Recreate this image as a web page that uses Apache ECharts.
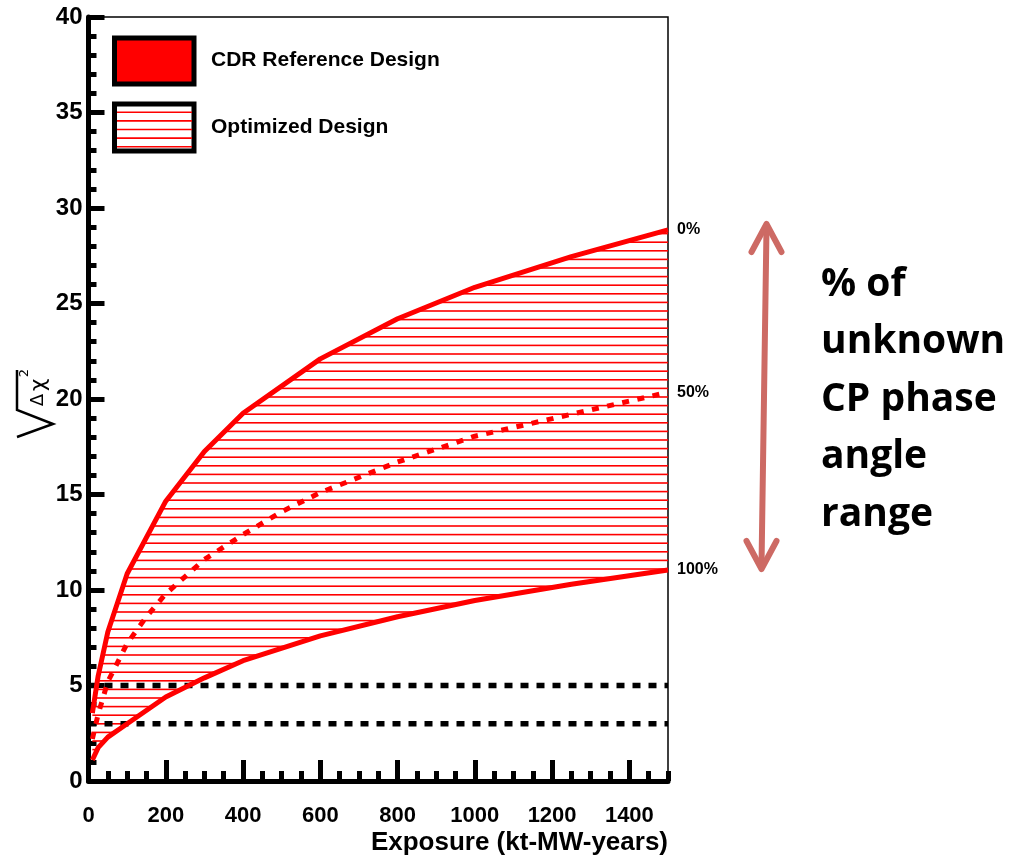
<!DOCTYPE html>
<html><head><meta charset="utf-8">
<script src="https://cdn.jsdelivr.net/npm/echarts@6/dist/echarts.min.js"></script>
<style>html,body{margin:0;padding:0;background:#fff}#c{width:1015px;height:857px}</style>
</head><body><div id="c"></div>
<script>
// ---- data ----
const exposure = [10, 25, 50, 100, 200, 300, 400, 600, 800, 1000, 1250, 1500];
const sig0 = [3.55, 5.5, 7.8, 10.85, 14.65, 17.25, 19.25, 22.1, 24.2, 25.85, 27.45, 28.85];
const sig100 = [1.1, 1.75, 2.3, 3.0, 4.4, 5.4, 6.3, 7.6, 8.6, 9.45, 10.3, 11.05];
const exposure50 = [10, 25, 50, 100, 150, 200, 300, 400, 500, 600, 800, 1000, 1250, 1500];
const sig50 = [2.2, 3.5, 5.2, 7.2, 8.6, 9.8, 11.6, 12.9, 14.1, 15.1, 16.7, 18.05, 19.2, 20.35];
const thresholds = [5, 3];
const xRange = [0, 1500];
const yRange = [0, 40];
const xMajorTicks = [0, 200, 400, 600, 800, 1000, 1200, 1400];
const curveLabels = ['0%', '50%', '100%'];
const legendNames = ['CDR Reference Design', 'Optimized Design'];
const sideText = ['% of', 'unknown', 'CP phase', 'angle', 'range'];
const xTitle = 'Exposure (kt-MW-years)';

// ---- styling ----
const RED = '#ff0000';
const ARROW = '#cd6a64';
const FONT = '"Liberation Sans", Arial, sans-serif';

const xMinorTicks = [];
for (let v = 50; v <= xRange[1]; v += 50) if (v % 200 !== 0) xMinorTicks.push(v);

function hatchCanvas() {
  const c = document.createElement('canvas');
  c.width = 8; c.height = 43;
  const ctx = c.getContext('2d');
  ctx.fillStyle = RED;
  for (let k = 0; k < 5; k++) ctx.fillRect(0, k * 8.6 + 0.6, 8, 1.6);
  return c;
}
const hatchImg = hatchCanvas();

const pairs = (xs, ys) => xs.map((x, i) => [x, ys[i]]);

const chart = echarts.init(document.getElementById('c'), null, { renderer: 'canvas' });

const lbl = (txt) => ({
  show: true, formatter: txt, distance: 9, color: '#000',
  fontSize: 16, fontWeight: 'bold', fontFamily: FONT
});

const series = [
  { name: legendNames[1], type: 'custom', data: [[xRange[0], yRange[0]]], silent: true, z: 1, clip: true,
    renderItem: function (params, api) {
      const pts = exposure.map((x, i) => api.coord([x, sig0[i]]));
      for (let i = exposure.length - 1; i >= 0; i--) pts.push(api.coord([exposure[i], sig100[i]]));
      return { type: 'polygon', shape: { points: pts },
               style: { fill: { image: hatchImg, repeat: 'repeat' }, stroke: null } };
    } }
];
thresholds.forEach(t => series.push({
  type: 'line', data: [[xRange[0], t], [xRange[1], t]], symbol: 'none', silent: true, z: 2,
  lineStyle: { color: '#000', width: 5.5, type: [8, 8] }
}));
series.push(
  { name: curveLabels[0], type: 'line', data: pairs(exposure, sig0), symbol: 'none', z: 3,
    lineStyle: { color: RED, width: 5 }, endLabel: lbl(curveLabels[0]) },
  { name: curveLabels[1], type: 'line', data: pairs(exposure50, sig50), symbol: 'none', z: 3,
    lineStyle: { color: RED, width: 5, type: [7, 8.5] }, endLabel: lbl(curveLabels[1]) },
  { name: curveLabels[2], type: 'line', data: pairs(exposure, sig100), symbol: 'none', z: 3,
    lineStyle: { color: RED, width: 5 }, endLabel: lbl(curveLabels[2]) }
);

const tickLabel = { color: '#000', fontSize: 22, fontWeight: 'bold', fontFamily: FONT,
                    formatter: v => String(v) };

// legend hatch lines (decoration of the legend swatch)
const legendHatch = [];
for (let k = 0; k < 5; k++) {
  legendHatch.push({ type: 'line', shape: { x1: 117, y1: 112.3 + 8.6 * k, x2: 192, y2: 112.3 + 8.6 * k },
    style: { stroke: RED, lineWidth: 1.6 }, z: 101 });
}

const option = {
  animation: false,
  backgroundColor: '#fff',
  grid: { left: 88.5, right: 347, top: 17, bottom: 76, show: true,
          borderColor: '#000', borderWidth: 1.5, backgroundColor: 'transparent' },
  xAxis: [
    { type: 'value', min: xRange[0], max: xRange[1], splitLine: { show: false },
      axisLine: { show: true, onZero: false, lineStyle: { color: '#000', width: 5 } },
      axisTick: { show: true, inside: true, length: 21, customValues: xMajorTicks,
                  lineStyle: { color: '#000', width: 5 } },
      axisLabel: Object.assign({}, tickLabel, { customValues: xMajorTicks, margin: 24 }) },
    { type: 'value', min: xRange[0], max: xRange[1], position: 'bottom', splitLine: { show: false },
      axisLine: { show: false }, axisLabel: { show: false },
      axisTick: { show: true, inside: true, length: 10, customValues: xMinorTicks,
                  lineStyle: { color: '#000', width: 5 } } }
  ],
  yAxis: {
    type: 'value', min: yRange[0], max: yRange[1], interval: 5, splitLine: { show: false },
    axisLine: { show: true, onZero: false, lineStyle: { color: '#000', width: 5 } },
    axisTick: { show: true, inside: true, length: 16, lineStyle: { color: '#000', width: 5 } },
    minorTick: { show: true, splitNumber: 5, length: 8, lineStyle: { color: '#000', width: 5 } },
    axisLabel: Object.assign({}, tickLabel, { margin: 6, fontSize: 24 })
  },
  series: series,
  graphic: [
    // legend
    { type: 'rect', shape: { x: 114.5, y: 38, width: 79.5, height: 46 },
      style: { fill: RED, stroke: '#000', lineWidth: 5 }, z: 100 },
    { type: 'text', x: 211, y: 60, style: { text: legendNames[0], fill: '#000',
      font: 'bold 21px ' + FONT, textVerticalAlign: 'middle' }, z: 100 },
    { type: 'rect', shape: { x: 114.5, y: 104, width: 79.5, height: 47 },
      style: { fill: '#fff', stroke: '#000', lineWidth: 5 }, z: 100 },
    ...legendHatch,
    { type: 'text', x: 211, y: 127, style: { text: legendNames[1], fill: '#000',
      font: 'bold 21px ' + FONT, textVerticalAlign: 'middle' }, z: 100 },
    // x axis title
    { type: 'text', x: 668, y: 843, style: { text: xTitle, fill: '#000',
      font: 'bold 26px ' + FONT, textAlign: 'right', textVerticalAlign: 'middle' }, z: 100 },
    // y axis title: sqrt(Δχ²)
    { type: 'group', x: 35, y: 405, rotation: Math.PI / 2, z: 100, children: [
      { type: 'polyline', shape: { points: [[-32, -18], [-19, 18], [-5, -18], [35, -18]] },
        style: { stroke: '#000', lineWidth: 2.5, fill: null } },
      { type: 'text', x: 5, y: 3, style: { text: 'Δ', fill: '#000', font: '18px "DejaVu Sans"',
        textAlign: 'center', textVerticalAlign: 'middle' } },
      { type: 'text', x: 20, y: 4, style: { text: 'χ', fill: '#000', font: '22px "DejaVu Sans"',
        textAlign: 'center', textVerticalAlign: 'middle' } },
      { type: 'text', x: 32, y: -10, style: { text: '2', fill: '#000', font: '13px "DejaVu Sans"',
        textAlign: 'center', textVerticalAlign: 'middle' } }
    ]},
    // double arrow
    { type: 'line', shape: { x1: 766.5, y1: 228, x2: 761.5, y2: 566 },
      style: { stroke: ARROW, lineWidth: 6, lineCap: 'round' }, z: 100 },
    { type: 'polyline', shape: { points: [[751.5, 252], [766.5, 224], [781.5, 252]] },
      style: { stroke: ARROW, lineWidth: 6, lineCap: 'round', lineJoin: 'round', fill: null }, z: 100 },
    { type: 'polyline', shape: { points: [[746.5, 541], [761.5, 569], [776.5, 541]] },
      style: { stroke: ARROW, lineWidth: 6, lineCap: 'round', lineJoin: 'round', fill: null }, z: 100 },
    // side annotation
    { type: 'text', x: 821, y: 256, style: { text: sideText.join('\n'), fill: '#000',
      font: 'bold 39px "Open Sans"', lineHeight: 57.5 }, z: 100 }
  ]
};
chart.setOption(option);
</script>
</body></html>
